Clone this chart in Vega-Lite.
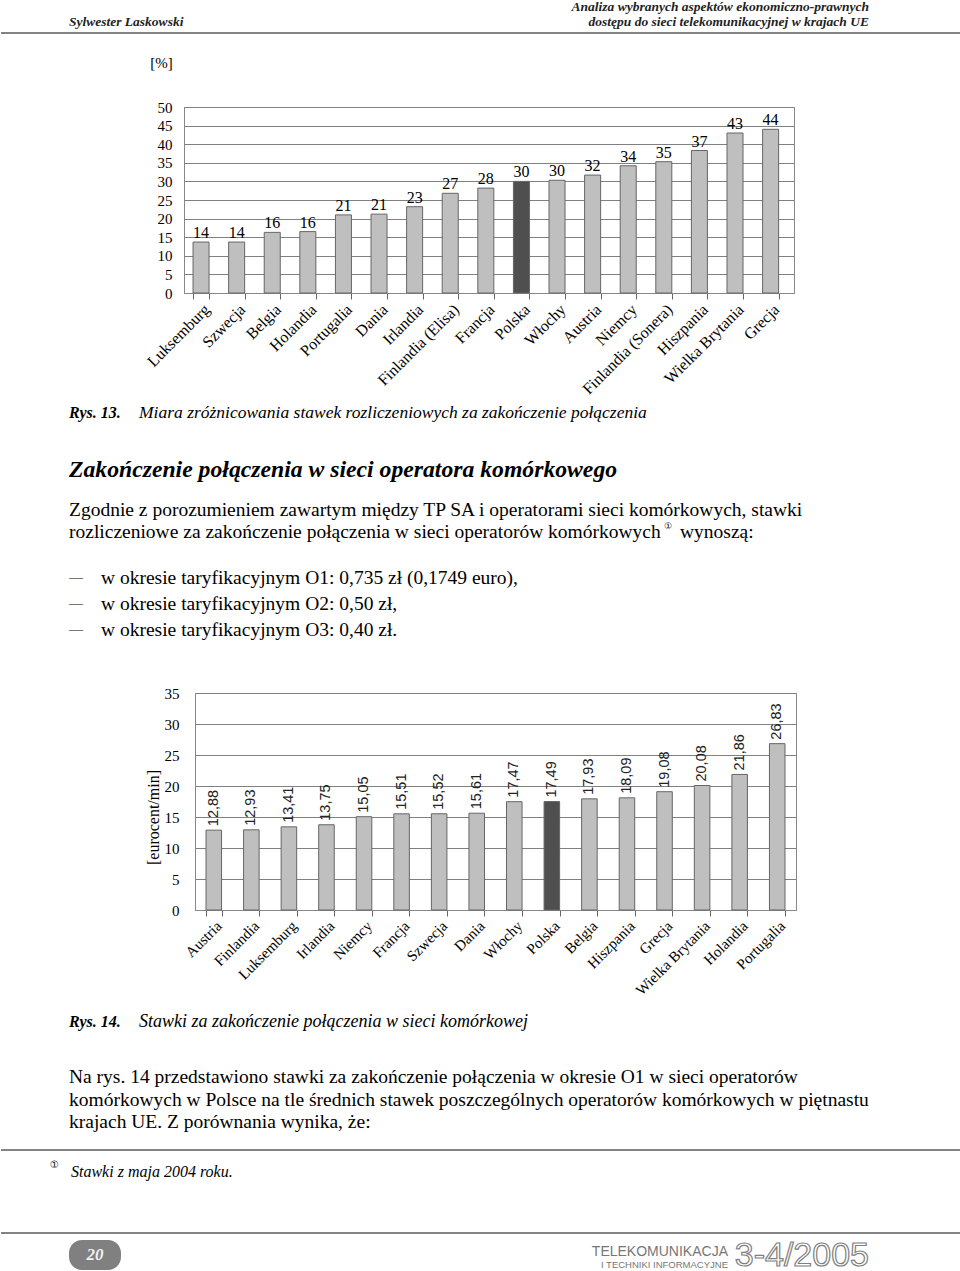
{
  "$schema": "https://vega.github.io/schema/vega-lite/v6.json",
  "padding": 0,
  "background": "white",
  "spacing": 0,
  "bounds": "flush",
  "config": {
    "view": {"stroke": null},
    "locale": {"number": {"decimal": ",", "thousands": " ", "grouping": [3], "currency": ["", ""]}},
    "axis": {"labelColor": "#000", "titleColor": "#000"}
  },
  "vconcat": [
    {
      "width": 960, "height": 107,
      "resolve": {"scale": {"y": "independent"}},
      "layer": [
        {
          "data": {"values": [{"line": "rule"}]},
          "mark": {"type": "rule", "color": "#5a5a5a", "strokeWidth": 1.5},
          "encoding": {"y": {"field": "line", "type": "ordinal", "scale": {"type": "point", "range": [33, 33]}, "axis": null}}
        },
        {
          "data": {"values": [{"side": "left", "line": "2", "text": "Sylwester Laskowski"}]},
          "mark": {"type": "text", "align": "left", "baseline": "middle", "font": "Liberation Serif", "fontStyle": "italic", "fontWeight": "bold", "fontSize": 13.5, "color": "#222"},
          "encoding": {
            "x": {"field": "side", "type": "nominal", "scale": {"type": "point", "domain": ["left", "right"], "range": [68, 868], "padding": 0}, "axis": null},
            "y": {"field": "line", "type": "ordinal", "scale": {"type": "point", "domain": ["1", "2"], "range": [7, 22], "padding": 0}, "axis": null},
            "text": {"field": "text"}
          }
        },
        {
          "data": {"values": [
            {"side": "right", "line": "1", "text": "Analiza wybranych aspektów ekonomiczno-prawnych"},
            {"side": "right", "line": "2", "text": "dostępu do sieci telekomunikacyjnej w krajach UE"}
          ]},
          "mark": {"type": "text", "align": "right", "baseline": "middle", "font": "Liberation Serif", "fontStyle": "italic", "fontWeight": "bold", "fontSize": 13.5, "color": "#222"},
          "encoding": {
            "x": {"field": "side", "type": "nominal", "scale": {"type": "point", "domain": ["left", "right"], "range": [68, 868], "padding": 0}, "axis": null},
            "y": {"field": "line", "type": "ordinal", "scale": {"type": "point", "domain": ["1", "2"], "range": [7, 22], "padding": 0}, "axis": null},
            "text": {"field": "text"}
          }
        }
      ]
    },
    {
      "spacing": 0,
      "bounds": "flush",
      "hconcat": [
        {"width": 183, "height": 186, "data": {"values": []}, "mark": "point"},
        {
          "width": 610, "height": 186,
          "view": {"stroke": "#888"},
          "data": {"values": [
            {"country": "Luksemburg", "value": 13.7, "label": 14},
            {"country": "Szwecja", "value": 13.7, "label": 14},
            {"country": "Belgia", "value": 16.3, "label": 16},
            {"country": "Holandia", "value": 16.5, "label": 16},
            {"country": "Portugalia", "value": 21.0, "label": 21},
            {"country": "Dania", "value": 21.2, "label": 21},
            {"country": "Irlandia", "value": 23.2, "label": 23},
            {"country": "Finlandia (Elisa)", "value": 26.8, "label": 27},
            {"country": "Francja", "value": 28.2, "label": 28},
            {"country": "Polska", "value": 30.0, "label": 30},
            {"country": "Włochy", "value": 30.3, "label": 30},
            {"country": "Austria", "value": 31.7, "label": 32},
            {"country": "Niemcy", "value": 34.2, "label": 34},
            {"country": "Finlandia (Sonera)", "value": 35.3, "label": 35},
            {"country": "Hiszpania", "value": 38.3, "label": 37},
            {"country": "Wielka Brytania", "value": 43.0, "label": 43},
            {"country": "Grecja", "value": 44.0, "label": 44}
          ]},
          "encoding": {
            "x": {
              "field": "country", "type": "nominal", "sort": null,
              "scale": {"paddingInner": 0.55, "paddingOuter": 0.343, "align": 0.37},
              "axis": {"title": null, "tickBand": "extent", "tickSize": 6, "tickColor": "#666", "domainColor": "#888", "labelAngle": -45, "labelAlign": "right", "labelBaseline": "top", "labelFont": "Liberation Serif", "labelFontSize": 16, "labelPadding": 2, "labelOverlap": false}
            },
            "y": {
              "field": "value", "type": "quantitative",
              "scale": {"domain": [0, 50]},
              "axis": {"values": [0, 5, 10, 15, 20, 25, 30, 35, 40, 45, 50], "grid": true, "gridColor": "#808080", "ticks": false, "domainColor": "#888", "labelFont": "Liberation Serif", "labelFontSize": 15, "labelPadding": 12, "title": "[%]", "titleFont": "Liberation Serif", "titleFontSize": 15, "titleFontWeight": "normal", "titleAngle": 0, "titleX": -23, "titleY": -45, "titleAlign": "center", "titleBaseline": "middle"}
            }
          },
          "layer": [
            {
              "mark": {"type": "bar", "stroke": "#666", "strokeWidth": 1},
              "encoding": {"fill": {"condition": {"test": "datum.country === 'Polska'", "value": "#4f4f4f"}, "value": "#bfbfbf"}}
            },
            {
              "mark": {"type": "text", "baseline": "alphabetic", "dy": -4, "font": "Liberation Serif", "fontSize": 16, "color": "#000"},
              "encoding": {"text": {"field": "label", "type": "quantitative"}}
            }
          ]
        }
      ]
    },
    {
      "width": 960, "height": 586,
      "resolve": {"scale": {"x": "independent", "y": "independent"}},
      "layer": [
        {
          "data": {"values": [{"side": "left", "line": "1", "text": "Rys. 13."}]},
          "mark": {"type": "text", "align": "left", "baseline": "middle", "font": "Liberation Serif", "fontStyle": "italic", "fontWeight": "bold", "fontSize": 16},
          "encoding": {
            "x": {"field": "side", "type": "nominal", "scale": {"type": "point", "domain": ["left", "right"], "range": [68, 868], "padding": 0}, "axis": null},
            "y": {"field": "line", "type": "ordinal", "scale": {"type": "point", "range": [306, 306]}, "axis": null},
            "text": {"field": "text"}
          }
        },
        {
          "data": {"values": [{"side": "left", "line": "1", "text": "Miara zróżnicowania stawek rozliczeniowych za zakończenie połączenia"}]},
          "mark": {"type": "text", "align": "left", "baseline": "middle", "dx": 70, "font": "Liberation Serif", "fontStyle": "italic", "fontSize": 17.5},
          "encoding": {
            "x": {"field": "side", "type": "nominal", "scale": {"type": "point", "domain": ["left", "right"], "range": [68, 868], "padding": 0}, "axis": null},
            "y": {"field": "line", "type": "ordinal", "scale": {"type": "point", "range": [306, 306]}, "axis": null},
            "text": {"field": "text"}
          }
        },
        {
          "data": {"values": [{"side": "left", "line": "1", "text": "Zakończenie połączenia w sieci operatora komórkowego"}]},
          "mark": {"type": "text", "align": "left", "baseline": "middle", "font": "Liberation Serif", "fontStyle": "italic", "fontWeight": "bold", "fontSize": 23.7},
          "encoding": {
            "x": {"field": "side", "type": "nominal", "scale": {"type": "point", "domain": ["left", "right"], "range": [68, 868], "padding": 0}, "axis": null},
            "y": {"field": "line", "type": "ordinal", "scale": {"type": "point", "range": [363, 363]}, "axis": null},
            "text": {"field": "text"}
          }
        },
        {
          "data": {"values": [
            {"side": "left", "line": "1", "text": "Zgodnie z porozumieniem zawartym między TP SA i operatorami sieci komórkowych, stawki"},
            {"side": "left", "line": "2", "text": "rozliczeniowe za zakończenie połączenia w sieci operatorów komórkowych"}
          ]},
          "mark": {"type": "text", "align": "left", "baseline": "middle", "font": "Liberation Serif", "fontSize": 19.5},
          "encoding": {
            "x": {"field": "side", "type": "nominal", "scale": {"type": "point", "domain": ["left", "right"], "range": [68, 868], "padding": 0}, "axis": null},
            "y": {"field": "line", "type": "ordinal", "scale": {"type": "point", "domain": ["1", "2"], "range": [403, 425], "padding": 0}, "axis": null},
            "text": {"field": "text"}
          }
        },
        {
          "data": {"values": [{"side": "left", "line": "2", "text": "①"}]},
          "mark": {"type": "text", "align": "left", "baseline": "middle", "dx": 595, "dy": -6, "font": "DejaVu Sans", "fontSize": 9},
          "encoding": {
            "x": {"field": "side", "type": "nominal", "scale": {"type": "point", "domain": ["left", "right"], "range": [68, 868], "padding": 0}, "axis": null},
            "y": {"field": "line", "type": "ordinal", "scale": {"type": "point", "domain": ["1", "2"], "range": [403, 425], "padding": 0}, "axis": null},
            "text": {"field": "text"}
          }
        },
        {
          "data": {"values": [{"side": "left", "line": "2", "text": "wynoszą:"}]},
          "mark": {"type": "text", "align": "left", "baseline": "middle", "dx": 611, "font": "Liberation Serif", "fontSize": 19.5},
          "encoding": {
            "x": {"field": "side", "type": "nominal", "scale": {"type": "point", "domain": ["left", "right"], "range": [68, 868], "padding": 0}, "axis": null},
            "y": {"field": "line", "type": "ordinal", "scale": {"type": "point", "domain": ["1", "2"], "range": [403, 425], "padding": 0}, "axis": null},
            "text": {"field": "text"}
          }
        },
        {
          "data": {"values": [
            {"side": "left", "line": "1", "text": "—"},
            {"side": "left", "line": "2", "text": "—"},
            {"side": "left", "line": "3", "text": "—"}
          ]},
          "mark": {"type": "text", "align": "left", "baseline": "middle", "font": "Liberation Serif", "fontSize": 14},
          "encoding": {
            "x": {"field": "side", "type": "nominal", "scale": {"type": "point", "domain": ["left", "right"], "range": [68, 868], "padding": 0}, "axis": null},
            "y": {"field": "line", "type": "ordinal", "scale": {"type": "point", "range": [471, 523], "padding": 0}, "axis": null},
            "text": {"field": "text"}
          }
        },
        {
          "data": {"values": [
            {"side": "left", "line": "1", "text": "w okresie taryfikacyjnym O1: 0,735 zł (0,1749 euro),"},
            {"side": "left", "line": "2", "text": "w okresie taryfikacyjnym O2: 0,50 zł,"},
            {"side": "left", "line": "3", "text": "w okresie taryfikacyjnym O3: 0,40 zł."}
          ]},
          "mark": {"type": "text", "align": "left", "baseline": "middle", "dx": 32, "font": "Liberation Serif", "fontSize": 19.5},
          "encoding": {
            "x": {"field": "side", "type": "nominal", "scale": {"type": "point", "domain": ["left", "right"], "range": [68, 868], "padding": 0}, "axis": null},
            "y": {"field": "line", "type": "ordinal", "scale": {"type": "point", "range": [471, 523], "padding": 0}, "axis": null},
            "text": {"field": "text"}
          }
        }
      ]
    },
    {
      "spacing": 0,
      "bounds": "flush",
      "hconcat": [
        {"width": 194, "height": 217, "data": {"values": []}, "mark": "point"},
        {
          "width": 601, "height": 217,
          "view": {"stroke": "#888"},
          "data": {"values": [
            {"country": "Austria", "value": 12.88},
            {"country": "Finlandia", "value": 12.93},
            {"country": "Luksemburg", "value": 13.41},
            {"country": "Irlandia", "value": 13.75},
            {"country": "Niemcy", "value": 15.05},
            {"country": "Francja", "value": 15.51},
            {"country": "Szwecja", "value": 15.52},
            {"country": "Dania", "value": 15.61},
            {"country": "Włochy", "value": 17.47},
            {"country": "Polska", "value": 17.49},
            {"country": "Belgia", "value": 17.93},
            {"country": "Hiszpania", "value": 18.09},
            {"country": "Grecja", "value": 19.08},
            {"country": "Wielka Brytania", "value": 20.08},
            {"country": "Holandia", "value": 21.86},
            {"country": "Portugalia", "value": 26.83}
          ]},
          "encoding": {
            "x": {
              "field": "country", "type": "nominal", "sort": null,
              "scale": {"paddingInner": 0.586, "paddingOuter": 0.293},
              "axis": {"title": null, "tickBand": "extent", "tickSize": 6, "tickColor": "#666", "domainColor": "#888", "labelAngle": -45, "labelAlign": "right", "labelBaseline": "top", "labelFont": "Liberation Serif", "labelFontSize": 15, "labelPadding": 2, "labelOverlap": false}
            },
            "y": {
              "field": "value", "type": "quantitative",
              "scale": {"domain": [0, 35]},
              "axis": {"values": [0, 5, 10, 15, 20, 25, 30, 35], "grid": true, "gridColor": "#808080", "ticks": false, "domainColor": "#888", "labelFont": "Liberation Serif", "labelFontSize": 15, "labelPadding": 16, "title": "[eurocent/min]", "titleFont": "Liberation Serif", "titleFontSize": 16, "titleFontWeight": "normal", "titleAngle": 270, "titleX": -42, "titleY": 124, "titleAlign": "center", "titleBaseline": "middle"}
            }
          },
          "layer": [
            {
              "mark": {"type": "bar", "stroke": "#666", "strokeWidth": 1},
              "encoding": {"fill": {"condition": {"test": "datum.country === 'Polska'", "value": "#4f4f4f"}, "value": "#bfbfbf"}}
            },
            {
              "mark": {"type": "text", "angle": 270, "align": "left", "baseline": "middle", "dx": 4, "font": "Liberation Sans", "fontSize": 14.5, "color": "#222"},
              "encoding": {"text": {"field": "value", "type": "quantitative", "format": ".2f"}}
            }
          ]
        }
      ]
    },
    {
      "width": 960, "height": 578,
      "resolve": {"scale": {"x": "independent", "y": "independent"}},
      "layer": [
        {
          "data": {"values": [{"side": "left", "line": "1", "text": "Rys. 14."}]},
          "mark": {"type": "text", "align": "left", "baseline": "middle", "font": "Liberation Serif", "fontStyle": "italic", "fontWeight": "bold", "fontSize": 16},
          "encoding": {
            "x": {"field": "side", "type": "nominal", "scale": {"type": "point", "domain": ["left", "right"], "range": [68, 868], "padding": 0}, "axis": null},
            "y": {"field": "line", "type": "ordinal", "scale": {"type": "point", "range": [329, 329]}, "axis": null},
            "text": {"field": "text"}
          }
        },
        {
          "data": {"values": [{"side": "left", "line": "1", "text": "Stawki za zakończenie połączenia w sieci komórkowej"}]},
          "mark": {"type": "text", "align": "left", "baseline": "middle", "dx": 70, "font": "Liberation Serif", "fontStyle": "italic", "fontSize": 18},
          "encoding": {
            "x": {"field": "side", "type": "nominal", "scale": {"type": "point", "domain": ["left", "right"], "range": [68, 868], "padding": 0}, "axis": null},
            "y": {"field": "line", "type": "ordinal", "scale": {"type": "point", "range": [329, 329]}, "axis": null},
            "text": {"field": "text"}
          }
        },
        {
          "data": {"values": [
            {"side": "left", "line": "1", "text": "Na rys. 14 przedstawiono stawki za zakończenie połączenia w okresie O1 w sieci operatorów"},
            {"side": "left", "line": "2", "text": "komórkowych w Polsce na tle średnich stawek poszczególnych operatorów komórkowych w piętnastu"},
            {"side": "left", "line": "3", "text": "krajach UE. Z porównania wynika, że:"}
          ]},
          "mark": {"type": "text", "align": "left", "baseline": "middle", "font": "Liberation Serif", "fontSize": 19.5},
          "encoding": {
            "x": {"field": "side", "type": "nominal", "scale": {"type": "point", "domain": ["left", "right"], "range": [68, 868], "padding": 0}, "axis": null},
            "y": {"field": "line", "type": "ordinal", "scale": {"type": "point", "range": [384, 429], "padding": 0}, "axis": null},
            "text": {"field": "text"}
          }
        },
        {
          "data": {"values": [{"line": "footnote"}, {"line": "bottom"}]},
          "mark": {"type": "rule", "color": "#5a5a5a", "strokeWidth": 1.5},
          "encoding": {"y": {"field": "line", "type": "ordinal", "sort": null, "scale": {"type": "point", "domain": ["footnote", "bottom"], "range": [457, 540], "padding": 0}, "axis": null}}
        },
        {
          "data": {"values": [{"side": "left", "line": "1", "text": "①"}]},
          "mark": {"type": "text", "align": "left", "baseline": "middle", "dx": -19, "font": "DejaVu Sans", "fontSize": 10},
          "encoding": {
            "x": {"field": "side", "type": "nominal", "scale": {"type": "point", "domain": ["left", "right"], "range": [68, 868], "padding": 0}, "axis": null},
            "y": {"field": "line", "type": "ordinal", "scale": {"type": "point", "range": [472, 472]}, "axis": null},
            "text": {"field": "text"}
          }
        },
        {
          "data": {"values": [{"side": "left", "line": "1", "text": "Stawki z maja 2004 roku."}]},
          "mark": {"type": "text", "align": "left", "baseline": "middle", "dx": 2, "font": "Liberation Serif", "fontStyle": "italic", "fontSize": 16},
          "encoding": {
            "x": {"field": "side", "type": "nominal", "scale": {"type": "point", "domain": ["left", "right"], "range": [68, 868], "padding": 0}, "axis": null},
            "y": {"field": "line", "type": "ordinal", "scale": {"type": "point", "range": [479, 479]}, "axis": null},
            "text": {"field": "text"}
          }
        },
        {
          "data": {"values": [{"page": "20"}]},
          "encoding": {
            "x": {"field": "page", "type": "nominal", "scale": {"type": "band", "range": [68, 120], "paddingInner": 0, "paddingOuter": 0}, "axis": null},
            "y": {"field": "page", "type": "nominal", "scale": {"type": "band", "range": [547, 577], "paddingInner": 0, "paddingOuter": 0}, "axis": null}
          },
          "layer": [
            {"mark": {"type": "rect", "color": "#808080", "cornerRadius": 13}},
            {"mark": {"type": "text", "font": "Liberation Serif", "fontStyle": "italic", "fontWeight": "bold", "fontSize": 17, "color": "#f0f0f0", "baseline": "middle"}, "encoding": {"text": {"field": "page"}}}
          ]
        },
        {
          "data": {"values": [{"side": "right", "line": "1", "text": "TELEKOMUNIKACJA"}]},
          "mark": {"type": "text", "align": "right", "baseline": "middle", "dx": -141, "font": "Liberation Sans", "fontSize": 14, "color": "#777"},
          "encoding": {
            "x": {"field": "side", "type": "nominal", "scale": {"type": "point", "domain": ["left", "right"], "range": [68, 868], "padding": 0}, "axis": null},
            "y": {"field": "line", "type": "ordinal", "scale": {"type": "point", "range": [559, 559]}, "axis": null},
            "text": {"field": "text"}
          }
        },
        {
          "data": {"values": [{"side": "right", "line": "1", "text": "I TECHNIKI INFORMACYJNE"}]},
          "mark": {"type": "text", "align": "right", "baseline": "middle", "dx": -141, "font": "Liberation Sans", "fontSize": 9.5, "color": "#777"},
          "encoding": {
            "x": {"field": "side", "type": "nominal", "scale": {"type": "point", "domain": ["left", "right"], "range": [68, 868], "padding": 0}, "axis": null},
            "y": {"field": "line", "type": "ordinal", "scale": {"type": "point", "range": [572, 572]}, "axis": null},
            "text": {"field": "text"}
          }
        },
        {
          "data": {"values": [{"side": "right", "line": "1", "text": "3-4/2005"}]},
          "mark": {"type": "text", "align": "right", "baseline": "middle", "font": "Liberation Sans", "fontSize": 34, "fill": "white", "stroke": "#808080", "strokeWidth": 1.2},
          "encoding": {
            "x": {"field": "side", "type": "nominal", "scale": {"type": "point", "domain": ["left", "right"], "range": [68, 868], "padding": 0}, "axis": null},
            "y": {"field": "line", "type": "ordinal", "scale": {"type": "point", "range": [563, 563]}, "axis": null},
            "text": {"field": "text"}
          }
        }
      ]
    }
  ]
}
